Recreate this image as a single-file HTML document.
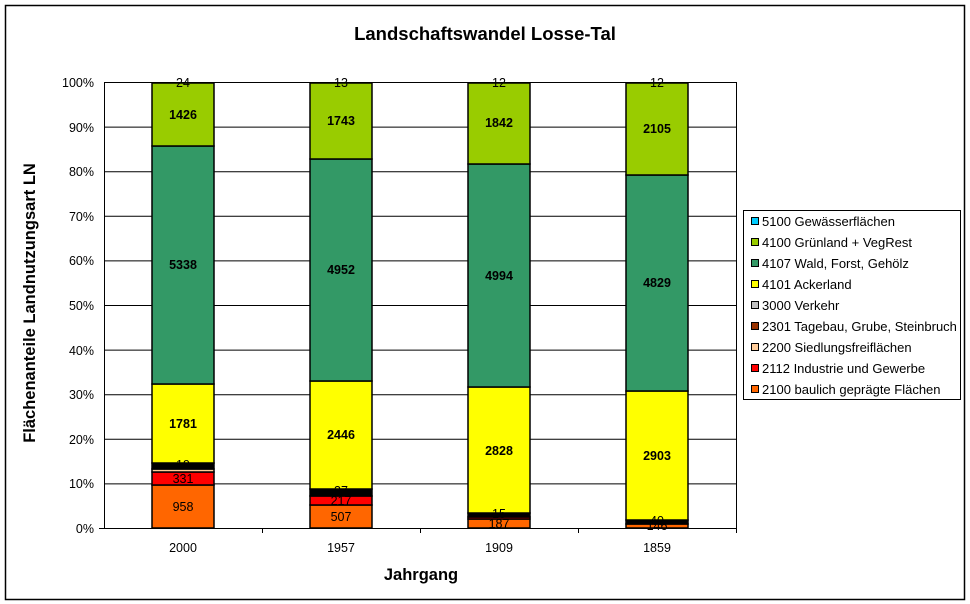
<!DOCTYPE html>
<html><head><meta charset="utf-8"><style>body{margin:0;background:#fff}svg{display:block;font-family:"Liberation Sans",Arial,sans-serif}</style></head><body>
<svg width="970" height="604" xmlns="http://www.w3.org/2000/svg">
<rect x="5.5" y="5.5" width="959" height="594" fill="#fff" stroke="#000" stroke-width="1.5"/>
<text x="485" y="40" text-anchor="middle" font-size="18.5" font-weight="bold">Landschaftswandel Losse-Tal</text>
<g stroke="#000" stroke-width="1">
<line x1="104" y1="82.5" x2="736" y2="82.5"/><line x1="104" y1="127.1" x2="736" y2="127.1"/><line x1="104" y1="171.7" x2="736" y2="171.7"/><line x1="104" y1="216.3" x2="736" y2="216.3"/><line x1="104" y1="260.9" x2="736" y2="260.9"/><line x1="104" y1="305.5" x2="736" y2="305.5"/><line x1="104" y1="350.1" x2="736" y2="350.1"/><line x1="104" y1="394.7" x2="736" y2="394.7"/><line x1="104" y1="439.3" x2="736" y2="439.3"/><line x1="104" y1="483.9" x2="736" y2="483.9"/>
<line x1="104.5" y1="82" x2="104.5" y2="528"/><line x1="736.5" y1="82" x2="736.5" y2="533"/>
<line x1="99" y1="528.5" x2="736" y2="528.5"/>
<line x1="262.5" y1="528" x2="262.5" y2="533"/><line x1="420.5" y1="528" x2="420.5" y2="533"/><line x1="578.5" y1="528" x2="578.5" y2="533"/>
</g>
<g font-size="12.5" text-anchor="end">
<text x="94" y="87">100%</text><text x="94" y="132">90%</text><text x="94" y="176">80%</text><text x="94" y="221">70%</text><text x="94" y="265">60%</text><text x="94" y="310">50%</text><text x="94" y="355">40%</text><text x="94" y="399">30%</text><text x="94" y="444">20%</text><text x="94" y="488">10%</text><text x="94" y="533">0%</text>
</g>
<g font-size="12.5" text-anchor="middle"><text x="183" y="552">2000</text><text x="341" y="552">1957</text><text x="499" y="552">1909</text><text x="657" y="552">1859</text></g>
<text x="421" y="580" text-anchor="middle" font-size="16.5" font-weight="bold">Jahrgang</text>
<text transform="translate(35,303) rotate(-90)" text-anchor="middle" font-size="16.5" font-weight="bold">Flächenanteile Landnutzungsart LN</text>
<g stroke="#000" stroke-width="1.5">
<rect x="152" y="485" width="62" height="43" fill="#FF6600"/>
<rect x="152" y="472" width="62" height="13" fill="#FF0000"/>
<rect x="152" y="469" width="62" height="3" fill="#FFCC99"/>
<rect x="152" y="463" width="62" height="6" fill="#000"/>
<rect x="152" y="384" width="62" height="79" fill="#FFFF00"/>
<rect x="152" y="146" width="62" height="238" fill="#339966"/>
<rect x="152" y="83" width="62" height="63" fill="#99CC00"/>
<rect x="310" y="505" width="62" height="23" fill="#FF6600"/>
<rect x="310" y="496" width="62" height="9" fill="#FF0000"/>
<rect x="310" y="489" width="62" height="7" fill="#000"/>
<rect x="310" y="381" width="62" height="108" fill="#FFFF00"/>
<rect x="310" y="159" width="62" height="222" fill="#339966"/>
<rect x="310" y="83" width="62" height="76" fill="#99CC00"/>
<rect x="468" y="519" width="62" height="9" fill="#FF6600"/>
<rect x="468" y="517" width="62" height="2" fill="#FF0000"/>
<rect x="468" y="513" width="62" height="4" fill="#000"/>
<rect x="468" y="387" width="62" height="126" fill="#FFFF00"/>
<rect x="468" y="164" width="62" height="223" fill="#339966"/>
<rect x="468" y="83" width="62" height="81" fill="#99CC00"/>
<rect x="626" y="524" width="62" height="4" fill="#FF6600"/>
<rect x="626" y="520" width="62" height="4" fill="#000"/>
<rect x="626" y="391" width="62" height="129" fill="#FFFF00"/>
<rect x="626" y="175" width="62" height="216" fill="#339966"/>
<rect x="626" y="83" width="62" height="92" fill="#99CC00"/>
</g>
<g font-size="12.5" text-anchor="middle">
<text x="183" y="511">958</text><text x="183" y="483">331</text><text x="183" y="469">19</text><text x="183" y="87">24</text>
<text x="341" y="521">507</text><text x="341" y="505">217</text><text x="341" y="495">37</text><text x="341" y="87">13</text>
<text x="499" y="528">187</text><text x="499" y="518">15</text><text x="499" y="87">12</text>
<text x="657" y="530">146</text><text x="657" y="525">40</text><text x="657" y="87">12</text>
</g>
<g font-size="12.5" font-weight="bold" text-anchor="middle">
<text x="183" y="119">1426</text><text x="183" y="269">5338</text><text x="183" y="428">1781</text>
<text x="341" y="125">1743</text><text x="341" y="274">4952</text><text x="341" y="439">2446</text>
<text x="499" y="127">1842</text><text x="499" y="280">4994</text><text x="499" y="455">2828</text>
<text x="657" y="133">2105</text><text x="657" y="287">4829</text><text x="657" y="460">2903</text>
</g>
<rect x="743.5" y="210.5" width="217" height="189" fill="#fff" stroke="#000"/>
<g stroke="#000" stroke-width="1">
<rect x="751.5" y="217.5" width="7" height="7" fill="#00CCFF"/>
<rect x="751.5" y="238.5" width="7" height="7" fill="#99CC00"/>
<rect x="751.5" y="259.5" width="7" height="7" fill="#339966"/>
<rect x="751.5" y="280.5" width="7" height="7" fill="#FFFF00"/>
<rect x="751.5" y="301.5" width="7" height="7" fill="#C0C0C0"/>
<rect x="751.5" y="322.5" width="7" height="7" fill="#993300"/>
<rect x="751.5" y="343.5" width="7" height="7" fill="#FFCC99"/>
<rect x="751.5" y="364.5" width="7" height="7" fill="#FF0000"/>
<rect x="751.5" y="385.5" width="7" height="7" fill="#FF6600"/>
</g>
<g font-size="13">
<text x="762" y="226">5100 Gewässerflächen</text>
<text x="762" y="247">4100 Grünland + VegRest</text>
<text x="762" y="268">4107 Wald, Forst, Gehölz</text>
<text x="762" y="289">4101 Ackerland</text>
<text x="762" y="310">3000 Verkehr</text>
<text x="762" y="331">2301 Tagebau, Grube, Steinbruch</text>
<text x="762" y="352">2200 Siedlungsfreiflächen</text>
<text x="762" y="373">2112 Industrie und Gewerbe</text>
<text x="762" y="394">2100 baulich geprägte Flächen</text>
</g>
</svg>
</body></html>
